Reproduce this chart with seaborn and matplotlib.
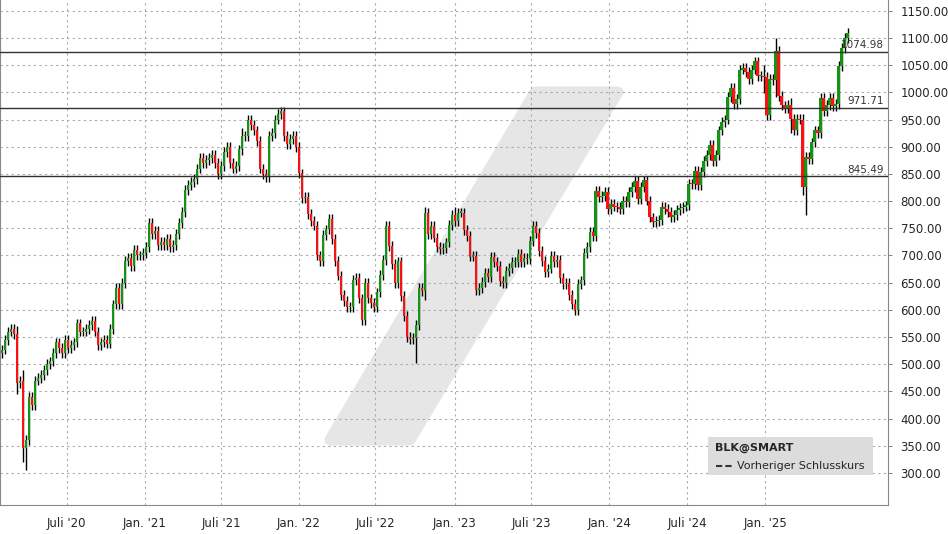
import numpy as np
import pandas as pd
import seaborn as sns
import matplotlib
matplotlib.use("Agg")
import matplotlib.pyplot as plt
from matplotlib.patches import Polygon, FancyBboxPatch

closes = [527,545,560,565,555,466,470,345,360,440,425,470,475,480,490,500,505,520,540,530,520,545,530,
          535,540,575,560,560,565,572,580,560,535,540,545,538,565,610,640,610,650,690,695,680,710,
          700,700,705,715,760,740,745,720,725,720,730,715,720,740,760,780,820,830,835,840,860,880,
          870,875,880,885,870,850,865,890,900,870,860,865,895,920,920,950,940,930,910,860,850,845,
          920,925,950,960,965,920,905,915,920,900,
          851,805,808,776,763,755,700,690,737,748,768,731,690,663,627,617,605,605,655,658,
          621,582,650,621,612,605,632,664,691,754,718,685,650,689,625,589,550,547,548,572,
          641,634,778,740,754,733,716,712,714,724,756,775,764,779,779,747,736,698,699,637,
          640,651,668,661,697,688,681,653,650,671,677,688,688,703,688,696,694,727,754,741,
          708,690,670,676,699,688,692,659,648,650,628,611,600,648,654,705,716,743,736,818,
          807,810,
          817,785,795,790,789,786,800,798,817,826,837,803,826,838,801,770,762,763,765,790,
          786,780,770,775,784,787,790,792,832,831,856,829,853,874,885,903,873,885,930,946,
          950,992,1009,978,988,1042,1045,1037,1025,1042,1057,1030,1030,1029,958,1024,1022,1076,993,976,
          972,977,951,930,952,950,826,881,878,908,930,925,990,965,977,990,975,978,1048,1082,
          1100,1110]
first_open = 520
wick_default = 9
wick_overrides = {5: (15, 20), 7: (20, 25), 8: (10, 40), 138: (10, 45), 141: (12, 15),
                  151: (15, 10), 80: (15, 10), 268: (10, 51), 267: (10, 15), 258: (25, 30),
                  263: (12, 25), 254: (20, 30)}
tick_labels = ["Juli '20", "Jan. '21", "Juli '21", "Jan. '22", "Juli '22", "Jan. '23",
               "Juli '23", "Jan. '24", "Juli '24", "Jan. '25"]
tick_pos = [21.6, 47.5, 73, 99, 124.5, 151, 176.5, 202.5, 228.5, 254.5]
levels = [1074.98, 971.71, 845.49]
yticks = list(range(300, 1151, 50))

opens = [first_open] + closes[:-1]
df = pd.DataFrame({"i": np.arange(len(closes)), "open": opens, "close": closes})
up = [wick_overrides.get(i, (wick_default, wick_default))[0] for i in df.i]
dn = [wick_overrides.get(i, (wick_default, wick_default))[1] for i in df.i]
df["high"] = np.maximum(df.open, df.close) + np.array(up)
df["low"] = np.minimum(df.open, df.close) - np.array(dn)
df["dir"] = np.where(df.close >= df.open, "up", "down")

sns.set_style("white")
plt.rcParams['font.family'] = ['DejaVu Sans']
fig = plt.figure(figsize=(9.48, 5.34), dpi=100)
ax = fig.add_axes([0.0, 29/534, 888/948, 505/534])

wm = Polygon([(330/888, 1-440/505), (410/888, 1-440/505), (618/888, 1-92/505), (535/888, 1-92/505)],
             closed=True, transform=ax.transAxes, facecolor="#e6e6e6", edgecolor="#e6e6e6",
             joinstyle="round", linewidth=8, zorder=0)
ax.add_patch(wm)

ax.vlines(df.i, df.low, df.high, color="black", linewidth=1.0, zorder=2)
colors = {"up": "#129612", "down": "#ff1010"}
for d, g in df.groupby("dir"):
    bottom = np.minimum(g.open, g.close)
    height = np.maximum(np.abs(g.close - g.open), 2)
    ax.bar(g.i, height, bottom=bottom, width=0.8, color=colors[d], linewidth=0, zorder=3)

for lv in levels:
    ax.axhline(lv, color="#333333", linewidth=1, zorder=4)
    ax.text(294, lv + 3, f"{lv:.2f}", ha="right", va="bottom", fontsize=7.5, color="#333333", zorder=5)

ax.set_xlim(-0.7, 295.5)
ax.set_ylim(241, 1170)
ax.set_xticks(tick_pos)
ax.set_xticklabels(tick_labels, fontsize=8.5)
ax.yaxis.tick_right()
ax.set_yticks(yticks)
ax.set_yticklabels([f"{v:.2f}" for v in yticks], fontsize=8.5)
ax.tick_params(axis="both", length=3, color="#888888", pad=6)
ax.grid(True, linestyle=(0, (2, 3)), color="#aaaaaa", linewidth=0.8, zorder=1)
ax.set_axisbelow(True)
for s in ["left", "bottom", "right"]:
    ax.spines[s].set_color("#888888")
ax.spines["top"].set_visible(False)

box = FancyBboxPatch((708/888, 1-475/505), 165/888, 38/505, boxstyle="square,pad=0",
                     transform=ax.transAxes, facecolor="#dcdcdc", edgecolor="none", zorder=6)
ax.add_patch(box)
ax.text(715/888, 1-448/505, "BLK@SMART", transform=ax.transAxes, fontsize=8, fontweight="bold",
        va="center", zorder=7)
ax.plot([716/888, 732/888], [1-466/505]*2, transform=ax.transAxes, color="#333333",
        linestyle=(0, (3, 1.5)), linewidth=1.5, zorder=7)
ax.text(737/888, 1-466/505, "Vorheriger Schlusskurs", transform=ax.transAxes, fontsize=8,
        va="center", zorder=7)

fig.savefig("out.png", dpi=100)
